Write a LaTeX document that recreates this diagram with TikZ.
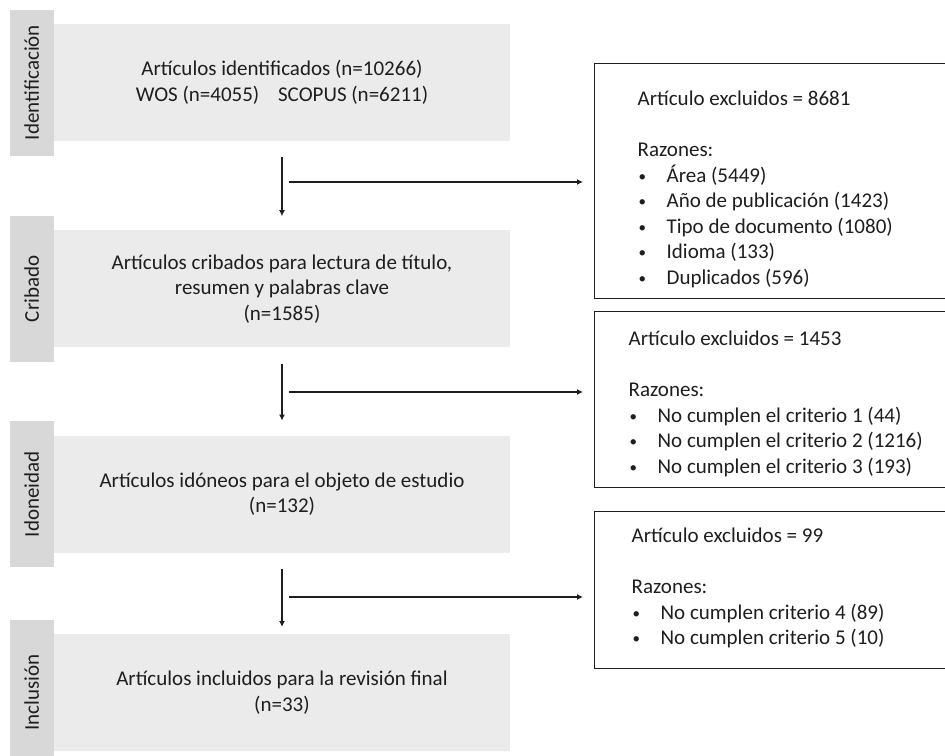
\documentclass[tikz,border=0pt]{standalone}
\usepackage{fontspec}
\setmainfont{Carlito}
\usepackage{tikz}
\usetikzlibrary{arrows.meta,positioning}
\definecolor{tabgray}{RGB}{216,216,216}
\definecolor{boxgray}{RGB}{235,235,235}
\definecolor{inkgray}{RGB}{30,30,30}
\newcommand{\itm}[1]{\makebox[29pt][l]{\hspace{1pt}\raisebox{1pt}{\fontsize{15}{15}\selectfont\textbullet}}#1}

\begin{document}
\begin{tikzpicture}[
        x=1pt, y=-1pt,
        font={\fontsize{21}{25.5}\selectfont},
        text=inkgray,
        stage/.style={rectangle, fill=boxgray, minimum width=456pt, minimum height=117pt, align=center, inner sep=0pt},
        tab/.style={rectangle, fill=tabgray, minimum width=44pt, minimum height=146pt, inner sep=0pt},
        excl/.style={rectangle, draw=inkgray, line width=1.3pt, fill=white, anchor=north west, text width=420pt, align=flush left, inner ysep=0pt},
        arrow/.style={-{Latex[length=6pt,width=6pt]}, line width=1.3pt, draw=inkgray}
        ]
        \useasboundingbox (0,0) rectangle (945,755);
        \clip (0,0) rectangle (945,755);

        \node[stage] (ident) at (282,82.5) {Artículos identificados (n=10266)\\WOS (n=4055)\hspace{14pt} SCOPUS (n=6211)};
        \node[stage, below=89pt of ident] (crib) {Artículos cribados para lectura de título,\\resumen y palabras clave\\(n=1585)};
        \node[stage, below=88pt of crib] (idon) {Artículos idóneos para el objeto de estudio\\(n=132)};
        \node[stage, below=81pt of idon] (incl) {Artículos incluidos para la revisión final\\(n=33)};

        \node[tab, left=0pt of ident] (tabIdent) {\rotatebox{90}{Identificación}};
        \node[tab, left=0pt of crib] (tabCrib) {\rotatebox{90}{Cribado}};
        \node[tab, left=0pt of idon] (tabIdon) {\rotatebox{90}{Idoneidad}};
        \node[tab, left=0pt of incl] (tabIncl) {\rotatebox{90}{Inclusión}};

        \node[excl, inner xsep=43pt] (exclA) at (594,63) {\rule{0pt}{42pt}Artículo excluidos = 8681\\[25.5pt]Razones:\\\itm{Área (5449)}\\\itm{Año de publicación (1423)}\\\itm{Tipo de documento (1080)}\\\itm{Idioma (133)}\\\itm{Duplicados (596)}\rule[-14pt]{0pt}{14pt}};
        \node[excl, inner xsep=34pt] (exclB) at (594,311) {\rule{0pt}{34pt}Artículo excluidos = 1453\\[25.5pt]Razones:\\\itm{No cumplen el criterio 1 (44)}\\\itm{No cumplen el criterio 2 (1216)}\\\itm{No cumplen el criterio 3 (193)}\rule[-14pt]{0pt}{14pt}};
        \node[excl, inner xsep=37pt] (exclC) at (594,511) {\rule{0pt}{31pt}Artículo excluidos = 99\\[25.5pt]Razones:\\\itm{No cumplen criterio 4 (89)}\\\itm{No cumplen criterio 5 (10)}\rule[-24pt]{0pt}{24pt}};

        \coordinate (outA) at (289,182);
        \coordinate (outB) at (289,392);
        \coordinate (outC) at (289,597);

        \draw[arrow] ([yshift=-16pt]ident.south) -- ([yshift=14pt]crib.north);
        \draw[arrow] ([yshift=-16pt]crib.south) -- ([yshift=15pt]idon.north);
        \draw[arrow] ([yshift=-16pt]idon.south) -- ([yshift=7pt]incl.north);
        \draw[arrow, shorten >=11pt] (outA) -- (outA -| exclA.west);
        \draw[arrow, shorten >=11pt] (outB) -- (outB -| exclB.west);
        \draw[arrow, shorten >=11pt] (outC) -- (outC -| exclC.west);
    \end{tikzpicture}
\end{document}
